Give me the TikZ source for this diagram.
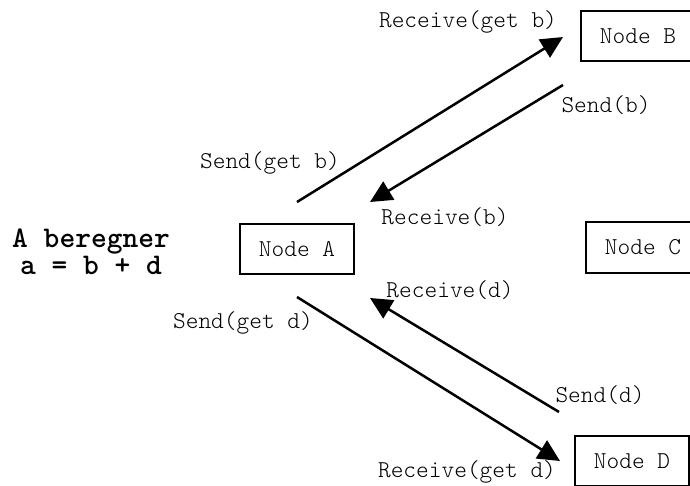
\documentclass[tikz,border=0pt]{standalone}
\usepackage{fontspec}
\setmonofont{lmmonolt10-regular.otf}[BoldFont=lmmonolt10-bold.otf]
\usetikzlibrary{arrows.meta}
\begin{document}
\begin{tikzpicture}[x=0.5pt,y=-0.5pt,
  box/.style={draw,line width=1pt,minimum width=57pt,minimum height=25pt,inner sep=0pt,
    font=\ttfamily\fontsize{12.1}{13}\selectfont},
  lbl/.style={inner sep=0pt,font=\ttfamily\fontsize{12.1}{13}\selectfont},
  msg/.style={line width=1.25pt,-{Triangle[length=11pt,width=10.5pt]}}]
\useasboundingbox (0,0) rectangle (690,486);
% nodes
\node[box] (A) at (297,249) {Node A};
\node[box] (B) at (638,36.5) {Node B};
\node[box] (C) at (643,247.5) {Node C};
\node[box] (D) at (632,461) {Node D};
% annotation
\node[inner sep=0pt,align=center,font=\ttfamily\bfseries\fontsize{15}{12.5}\selectfont] (calc) at (91,252) {A beregner\\a = b + d};
% connector end points
\coordinate (a1) at (297,202);
\coordinate (b1) at (563,37);
\coordinate (b2) at (563,85);
\coordinate (a2) at (370,202);
\coordinate (a3) at (297,297);
\coordinate (d1) at (560,461);
\coordinate (d2) at (559,412);
\coordinate (a4) at (370,298);
% messages
\draw[msg] (a1) -- (b1);
\draw[msg] (b2) -- (a2);
\draw[msg] (a3) -- (d1);
\draw[msg] (d2) -- (a4);
% labels
\node[lbl] (l1) at (468,22) {Receive(get b)};
\node[lbl] (l2) at (606,105) {Send(b)};
\node[lbl] (l3) at (270,163) {Send(get b)};
\node[lbl] (l4) at (445,217) {Receive(b)};
\node[lbl] (l5) at (450,290) {Receive(d)};
\node[lbl] (l6) at (243,323) {Send(get d)};
\node[lbl] (l7) at (600,395) {Send(d)};
\node[lbl] (l8) at (467,472) {Receive(get d)};
\end{tikzpicture}
\end{document}
